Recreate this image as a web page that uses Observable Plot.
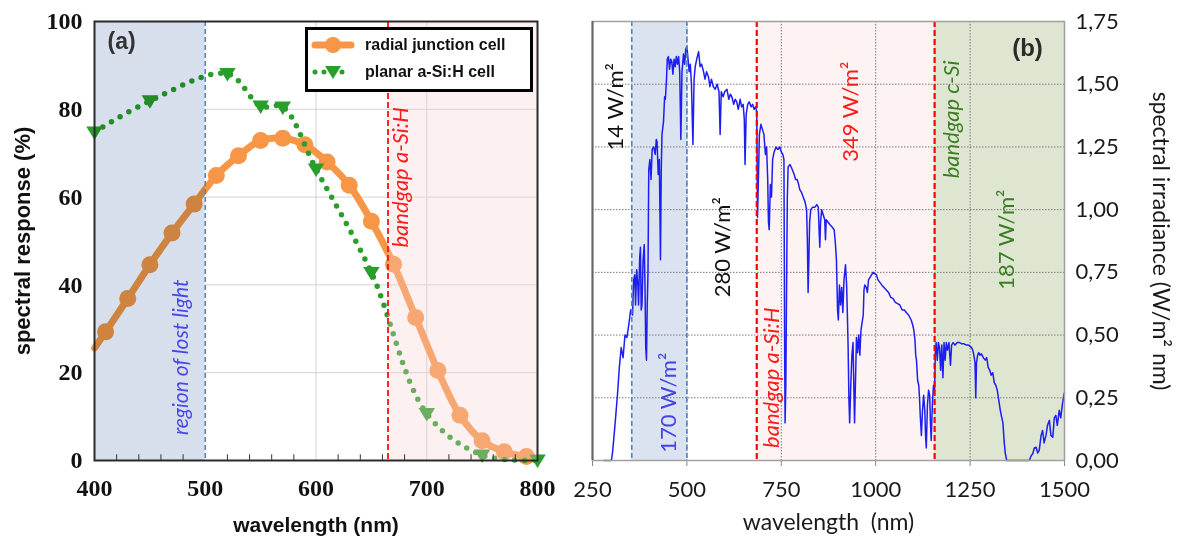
<!DOCTYPE html>
<html><head><meta charset="utf-8">
<script src="https://cdn.jsdelivr.net/npm/d3@7"></script>
<script src="https://cdn.jsdelivr.net/npm/@observablehq/plot@0.6"></script>
<style>
html,body{margin:0;padding:0;background:#fff;}
#wrap{position:relative;width:1177px;height:540px;overflow:hidden;background:#fff;}
#pa{position:absolute;left:0;top:0;width:560px;height:540px;}
#pb{position:absolute;left:560px;top:0;width:617px;height:540px;}
#legend{position:absolute;left:305px;top:27px;width:222px;height:59px;border:3px solid #000;background:#fff;
  font:bold 16px 'Liberation Sans',Arial,sans-serif;color:#111;}
#legend .row{position:absolute;left:0;height:24px;display:flex;align-items:center;}
#legend svg{margin-left:3px;margin-right:10px;}
</style></head>
<body><div id="wrap"><div id="pa"></div><div id="pb"></div><div id="legend"></div></div>
<script>
// ---------- Panel (a) data ----------
const radialWavelength = [400,410,430,450,470,490,510,530,550,570,590,610,630,650,670,690,710,730,750,770,790];
const radialResponse   = [25.6,29.3,36.9,44.6,51.8,58.4,64.9,69.4,72.9,73.4,71.9,68.0,62.7,54.5,44.7,32.6,20.5,10.3,4.5,2.0,0.9];
const planarWavelength = [400,450,520,550,570,600,650,700,750,800];
const planarResponse   = [74.8,81.9,88.1,80.7,80.5,66.4,42.8,10.7,1.2,0.1];
const seriesNames = ["radial junction cell","planar a-Si:H cell"];
const xTicksA = [400,500,600,700,800];
const yTicksA = [0,20,40,60,80,100];
const minorTicksA = [420,440,460,480,520,540,560,580,620,640,660,680,720,740,760,780];
const lostLightA = [400,500];
const bandgapASiH_A = 665;

// ---------- Panel (b) data: AM1.5 spectral irradiance [nm, W/m² nm] ----------
const spectrumAM15 = [[280,0],[290,0],[300,0],[303,0.03],[306,0.08],[310,0.15],[316,0.26],[321,0.37],[326,0.45],[331,0.41],[336,0.50],[341,0.49],[346,0.54],[351,0.60],[356,0.58],[359,0.72],[362,0.74],[364,0.62],[367,0.76],[370,0.70],[372,0.62],[375,0.81],[377,0.85],[379,0.60],[381,0.62],[384,0.80],[387,0.86],[389,0.70],[391,0.45],[393,0.40],[395,0.62],[397,0.75],[399,1.16],[402,1.20],[405,1.12],[408,1.24],[412,1.25],[416,1.22],[419,1.28],[421,1.27],[424,1.14],[427,1.20],[430,0.80],[432,1.15],[434,1.30],[438,1.35],[441,1.45],[443,1.44],[446,1.52],[448,1.60],[451,1.61],[454,1.56],[457,1.60],[460,1.59],[463,1.54],[466,1.60],[469,1.57],[472,1.61],[475,1.58],[478,1.61],[481,1.55],[484,1.28],[487,1.55],[491,1.62],[494,1.58],[497,1.64],[500,1.65],[503,1.60],[506,1.55],[509,1.58],[512,1.50],[516,1.26],[519,1.52],[522,1.57],[526,1.60],[531,1.63],[535,1.57],[539,1.58],[544,1.55],[548,1.52],[552,1.55],[557,1.53],[561,1.49],[565,1.52],[570,1.49],[575,1.48],[580,1.50],[585,1.47],[588,1.30],[591,1.47],[596,1.45],[600,1.47],[606,1.48],[611,1.44],[615,1.46],[619,1.45],[624,1.42],[628,1.44],[632,1.43],[636,1.40],[641,1.44],[645,1.41],[649,1.42],[652,1.36],[654,1.18],[657,1.38],[661,1.42],[665,1.43],[670,1.41],[674,1.42],[678,1.40],[682,1.41],[685,1.39],[687,0.97],[689,1.10],[692,1.30],[696,1.34],[700,1.32],[704,1.30],[708,1.22],[711,1.25],[714,1.12],[716,0.95],[718,0.92],[721,1.10],[724,1.05],[727,1.20],[731,1.23],[736,1.25],[741,1.24],[746,1.25],[750,1.23],[754,1.22],[757,1.20],[759,0.40],[760,0.15],[762,0.30],[764,0.70],[766,1.05],[768,1.17],[773,1.18],[779,1.16],[784,1.14],[788,1.12],[792,1.12],[796,1.10],[799,1.08],[803,1.07],[808,1.05],[813,1.03],[817,1.00],[819,0.88],[821,0.67],[823,0.80],[825,0.95],[828,1.00],[833,1.01],[839,1.01],[844,1.02],[848,1.01],[850,0.92],[852,0.85],[854,0.95],[857,1.00],[861,0.98],[865,0.96],[867,0.88],[869,0.96],[874,0.95],[879,0.94],[885,0.93],[890,0.92],[893,0.87],[896,0.80],[899,0.60],[901,0.56],[904,0.70],[907,0.62],[910,0.69],[913,0.59],[916,0.72],[920,0.78],[923,0.70],[925,0.58],[927,0.45],[929,0.25],[931,0.15],[934,0.30],[937,0.42],[940,0.47],[942,0.30],[944,0.15],[947,0.35],[949,0.49],[952,0.43],[955,0.50],[958,0.42],[961,0.52],[964,0.55],[967,0.58],[969,0.68],[971,0.70],[975,0.69],[978,0.67],[981,0.72],[985,0.73],[989,0.74],[993,0.75],[997,0.745],[1002,0.74],[1006,0.72],[1011,0.71],[1016,0.70],[1022,0.69],[1028,0.68],[1034,0.67],[1040,0.65],[1046,0.645],[1052,0.63],[1058,0.625],[1064,0.62],[1070,0.60],[1076,0.60],[1081,0.59],[1087,0.58],[1094,0.56],[1098,0.54],[1101,0.52],[1104,0.48],[1106,0.42],[1108,0.40],[1111,0.32],[1114,0.30],[1116,0.25],[1118,0.18],[1121,0.10],[1124,0.20],[1127,0.26],[1130,0.20],[1132,0.10],[1134,0.05],[1137,0.22],[1140,0.28],[1143,0.26],[1145,0.15],[1147,0.08],[1150,0.22],[1153,0.30],[1156,0.28],[1158,0.44],[1160,0.47],[1163,0.40],[1166,0.47],[1169,0.45],[1172,0.36],[1175,0.46],[1178,0.33],[1181,0.47],[1184,0.40],[1187,0.47],[1190,0.44],[1194,0.47],[1198,0.38],[1201,0.46],[1205,0.47],[1210,0.46],[1216,0.47],[1222,0.47],[1228,0.465],[1234,0.465],[1240,0.46],[1246,0.46],[1250,0.455],[1254,0.45],[1257,0.44],[1260,0.42],[1263,0.39],[1265,0.25],[1267,0.39],[1270,0.42],[1273,0.43],[1276,0.42],[1280,0.425],[1285,0.41],[1290,0.40],[1294,0.41],[1298,0.37],[1302,0.36],[1306,0.34],[1310,0.35],[1314,0.31],[1318,0.30],[1322,0.28],[1326,0.24],[1330,0.20],[1334,0.17],[1337,0.15],[1340,0.08],[1343,0.03],[1347,0],[1360,0],[1380,0],[1400,0],[1407,0],[1412,0.02],[1416,0.027],[1420,0.05],[1425,0.053],[1429,0.03],[1433,0.04],[1438,0.10],[1442,0.12],[1446,0.07],[1451,0.10],[1455,0.14],[1460,0.16],[1464,0.10],[1469,0.093],[1473,0.17],[1477,0.18],[1481,0.14],[1486,0.20],[1490,0.17],[1495,0.23],[1499,0.266],[1500,0.27]];
const xTicksB = [250,500,750,1000,1250,1500];
const yTicksB = [0,0.25,0.5,0.75,1,1.25,1.5,1.75];
const xGridB = [500,750,1000,1250];
const yGridB = [0.25,0.5,0.75,1,1.25,1.5];
const uvRegionB = [354,500];
const bandgapASiH_B = 685;
const bandgapCSi_B = 1156;
const energyLabels = ["14 W/m²","170 W/m²","280 W/m²","349 W/m²","187 W/m²"];

// ---------- colours ----------
const orange = "#F79646", green = "#2A9E2A", blueLine = "#1E1EF2";

const radial = radialWavelength.map((w,i)=>({w, r: radialResponse[i]}));
const planar = planarWavelength.map((w,i)=>({w, r: planarResponse[i]}));
const spectrum = spectrumAM15.map(([w,e])=>({w,e}));

// down-pointing triangle symbol
const triangleDown = {draw(ctx, size){ const r = Math.sqrt(size/Math.PI);
  ctx.moveTo(-r*1.1, -r*0.75); ctx.lineTo(r*1.1, -r*0.75); ctx.lineTo(0, r*1.05); ctx.closePath(); }};

// ---------- Panel (a) ----------
const pa = Plot.plot({
  width: 560, height: 540,
  marginLeft: 94, marginRight: 23, marginTop: 21, marginBottom: 80,
  x: {domain: [400, 800]},
  y: {domain: [0, 100]},
  style: {fontFamily: "'Liberation Serif', serif", fontSize: "24px", fontWeight: "bold", color: "#111", background: "transparent", overflow: "visible"},
  marks: [
    Plot.ruleY(yTicksA.filter(d => d > 0 && d < 100), {x1: lostLightA[1], x2: 800, stroke: "#d3d3d3", strokeWidth: 1}),
    Plot.ruleX(xTicksA.filter(d => d > 500 && d < 800), {stroke: "#d3d3d3", strokeWidth: 1}),
    Plot.line(radial, {x: "w", y: "r", stroke: orange, strokeWidth: 7, curve: "catmull-rom", strokeLinejoin: "round"}),
    Plot.dot(radial.slice(1), {x: "w", y: "r", r: 8.5, fill: orange, stroke: null}),
    Plot.line(planar, {x: "w", y: "r", stroke: green, strokeWidth: 5.5, strokeDasharray: "0,10", strokeLinecap: "round", curve: "catmull-rom"}),
    Plot.dot(planar, {x: "w", y: "r", r: 7.5, symbol: triangleDown, fill: green, stroke: null}),
    Plot.rect([lostLightA], {x1: d => d[0], x2: d => d[1], fill: "#D6DFEB", mixBlendMode: "multiply"}),
    Plot.rect([[bandgapASiH_A, 800]], {x1: d => d[0], x2: d => d[1], fill: "#F8CFCF", fillOpacity: 0.32}),
    Plot.ruleX([lostLightA[1]], {stroke: "#4F86C6", strokeWidth: 1.6, strokeDasharray: "5,3"}),
    Plot.ruleX([bandgapASiH_A], {stroke: "#FF1010", strokeWidth: 1.8, strokeDasharray: "6,3"}),
    Plot.ruleX(minorTicksA, {y1: 0, y2: 1.3, stroke: "#333", strokeWidth: 1}),
    Plot.axisX({ticks: xTicksA, tickSize: 0, tickPadding: 18, label: null}),
    Plot.axisY({ticks: yTicksA, tickSize: 0, tickPadding: 12, label: null}),
    Plot.text(["region of lost light"], {x: 478, y: 23.5, rotate: -90, text: d => d, fill: "#4848E8",
      fontFamily: "Lato, sans-serif", fontStyle: "italic", fontWeight: "normal", fontSize: 21, textAnchor: "middle"}),
    Plot.text(["bandgap a-Si:H"], {x: 677, y: 64.5, rotate: -90, text: d => d, fill: "#FF1A1A",
      fontFamily: "Lato, sans-serif", fontStyle: "italic", fontWeight: "normal", fontSize: 22, textAnchor: "middle"}),
    Plot.text(["(a)"], {frameAnchor: "top-left", dx: 13, dy: 20, text: d => d, textAnchor: "start", lineAnchor: "middle",
      fontFamily: "'Liberation Sans', Arial, sans-serif", fontSize: 23, fontWeight: "bold", fill: "#333"}),
    Plot.text(["wavelength (nm)"], {frameAnchor: "bottom", dy: 65, text: d => d, textAnchor: "middle", lineAnchor: "middle",
      fontFamily: "'Liberation Sans', Arial, sans-serif", fontSize: 21, fontWeight: "bold", fill: "#111", letterSpacing: "2px"}),
    Plot.text(["spectral response (%)"], {frameAnchor: "left", dx: -72, rotate: -90, text: d => d, textAnchor: "middle", lineAnchor: "middle",
      fontFamily: "'Liberation Sans', Arial, sans-serif", fontSize: 22, fontWeight: "bold", fill: "#111", letterSpacing: "1.2px"}),
    Plot.frame({stroke: "#2b2b2b", strokeWidth: 2})
  ]
});
document.getElementById("pa").append(pa);

// legend (HTML)
const legend = d3.select("#legend");
const rows = [
  {name: seriesNames[0], kind: "radial"},
  {name: seriesNames[1], kind: "planar"}
];
rows.forEach((row, i) => {
  const div = legend.append("div").attr("class", "row").style("top", (i === 0 ? 3 : 30) + "px");
  const svg = div.append("svg").attr("width", 44).attr("height", 24);
  if (row.kind === "radial") {
    svg.append("line").attr("x1", 4).attr("x2", 40).attr("y1", 12).attr("y2", 12)
      .attr("stroke", orange).attr("stroke-width", 7).attr("stroke-linecap", "round");
    svg.append("circle").attr("cx", 22).attr("cy", 12).attr("r", 8).attr("fill", orange);
  } else {
    svg.append("line").attr("x1", 4).attr("x2", 40).attr("y1", 12).attr("y2", 12)
      .attr("stroke", green).attr("stroke-width", 5).attr("stroke-linecap", "round").attr("stroke-dasharray", "0,9");
    svg.append("path").attr("d", "M14,6L30,6L22,19Z").attr("fill", green);
  }
  div.append("span").text(row.name);
});

// ---------- Panel (b) ----------
const fmtComma = d => d.toFixed(2).replace(".", ",");
const pb = Plot.plot({
  width: 617, height: 540,
  marginLeft: 32, marginRight: 113, marginTop: 21, marginBottom: 80,
  x: {domain: [250, 1500]},
  y: {domain: [0, 1.75]},
  style: {fontFamily: "Lato, 'Open Sans', sans-serif", fontSize: "22px", color: "#1a1a1a", background: "transparent", overflow: "visible"},
  marks: [
    Plot.rect([uvRegionB], {x1: d => d[0], x2: d => d[1], fill: "#DAE3EF"}),
    Plot.rect([[bandgapASiH_B, bandgapCSi_B]], {x1: d => d[0], x2: d => d[1], fill: "#FDF3F3"}),
    Plot.rect([[bandgapCSi_B, 1500]], {x1: d => d[0], x2: d => d[1], fill: "#DEE6D2"}),
    Plot.ruleX(xGridB, {stroke: "#7a7a7a", strokeWidth: 1, strokeDasharray: "1.5,1.5"}),
    Plot.ruleY(yGridB, {stroke: "#7a7a7a", strokeWidth: 1, strokeDasharray: "1.5,1.5"}),
    Plot.line(spectrum, {x: "w", y: "e", stroke: blueLine, strokeWidth: 1.5, strokeLinejoin: "round"}),
    Plot.ruleX(uvRegionB, {stroke: "#4A86C5", strokeWidth: 1.6, strokeDasharray: "5,3"}),
    Plot.ruleX([bandgapASiH_B, bandgapCSi_B], {stroke: "#FF0000", strokeWidth: 2.2, strokeDasharray: "6,3"}),
    Plot.axisX({ticks: xTicksB, tickSize: 6, tickPadding: 15, stroke: "#888", tickFormat: d => String(d), label: null}),
    Plot.axisY({anchor: "right", ticks: yTicksB, tickSize: 0, tickPadding: 11, tickFormat: fmtComma, label: null}),
    Plot.text([energyLabels[0]], {x: 311, y: 1.41, rotate: -90, text: d => d, fill: "#111", fontSize: 22, textAnchor: "middle"}),
    Plot.text([energyLabels[1]], {x: 452, y: 0.23, rotate: -90, text: d => d, fill: "#4444E6", fontSize: 22, textAnchor: "middle"}),
    Plot.text([energyLabels[2]], {x: 596, y: 0.85, rotate: -90, text: d => d, fill: "#111", fontSize: 22, textAnchor: "middle"}),
    Plot.text(["bandgap a-Si:H"], {x: 725, y: 0.33, rotate: -90, text: d => d, fill: "#FF1A1A", fontStyle: "italic", fontSize: 22, textAnchor: "middle"}),
    Plot.text([energyLabels[3]], {x: 934, y: 1.39, rotate: -90, text: d => d, fill: "#FF1A1A", fontSize: 22, textAnchor: "middle"}),
    Plot.text(["bandgap c-Si"], {x: 1202, y: 1.36, rotate: -90, text: d => d, fill: "#3A7D22", fontStyle: "italic", fontSize: 22, textAnchor: "middle"}),
    Plot.text([energyLabels[4]], {x: 1348, y: 0.88, rotate: -90, text: d => d, fill: "#3A7D22", fontSize: 22, textAnchor: "middle"}),
    Plot.text(["(b)"], {frameAnchor: "top-right", dx: -37, dy: 27, text: d => d, textAnchor: "middle", lineAnchor: "middle",
      fontFamily: "'Liberation Sans', Arial, sans-serif", fontSize: 24, fontWeight: "bold", fill: "#2b2b2b"}),
    Plot.text(["wavelength  (nm)"], {frameAnchor: "bottom", dy: 62, text: d => d, textAnchor: "middle", lineAnchor: "middle", fontSize: 23, fill: "#1a1a1a"}),
    Plot.text(["spectral irradiance (W/m² nm)"], {frameAnchor: "right", dx: 96, rotate: 90, text: d => d, textAnchor: "middle", lineAnchor: "middle", fontSize: 23, fill: "#1a1a1a"}),
    Plot.frame({stroke: "#a0a0a0", strokeWidth: 1.5}),
    Plot.ruleX([250], {stroke: "#666", strokeWidth: 2})
  ]
});
document.getElementById("pb").append(pb);
</script></body></html>
